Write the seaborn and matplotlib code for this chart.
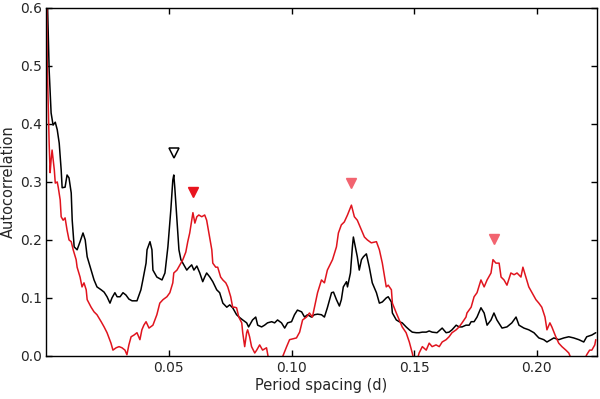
import numpy as np
import pandas as pd
import matplotlib
matplotlib.use("Agg")
import matplotlib.pyplot as plt
import seaborn as sns

# black curve: period spacing (d) vs autocorrelation
black_x = [0.0002, 0.0012, 0.0020, 0.0028, 0.0037, 0.0045, 0.0053, 0.0061, 0.0065, 0.0077,
           0.0085, 0.0093, 0.0102, 0.0106, 0.0114, 0.0126, 0.0138, 0.0150, 0.0159, 0.0167,
           0.0183, 0.0195, 0.0207, 0.0224, 0.0236, 0.0248, 0.0260, 0.0268, 0.0280, 0.0289,
           0.0301, 0.0313, 0.0325, 0.0337, 0.0350, 0.0370, 0.0386, 0.0394, 0.0407, 0.0411,
           0.0423, 0.0431, 0.0435, 0.0451, 0.0472, 0.0484, 0.0496, 0.0508, 0.0516, 0.0520,
           0.0524, 0.0533, 0.0541, 0.0549, 0.0557, 0.0573, 0.0581, 0.0593, 0.0602, 0.0614,
           0.0626, 0.0638, 0.0646, 0.0654, 0.0667, 0.0679, 0.0695, 0.0707, 0.0720, 0.0736,
           0.0748, 0.0760, 0.0776, 0.0789, 0.0801, 0.0817, 0.0825, 0.0841, 0.0854, 0.0862,
           0.0878, 0.0890, 0.0902, 0.0919, 0.0931, 0.0943, 0.0959, 0.0972, 0.0984, 0.1000,
           0.1012, 0.1024, 0.1041, 0.1053, 0.1065, 0.1081, 0.1093, 0.1106, 0.1122, 0.1134,
           0.1146, 0.1163, 0.1171, 0.1183, 0.1195, 0.1203, 0.1211, 0.1224, 0.1228, 0.1240,
           0.1248, 0.1252, 0.1260, 0.1268, 0.1276, 0.1285, 0.1293, 0.1305, 0.1317, 0.1329,
           0.1346, 0.1358, 0.1370, 0.1386, 0.1394, 0.1407, 0.1411, 0.1427, 0.1439, 0.1451,
           0.1467, 0.1480, 0.1492, 0.1508, 0.1520, 0.1533, 0.1549, 0.1561, 0.1573, 0.1593,
           0.1614, 0.1630, 0.1642, 0.1654, 0.1671, 0.1683, 0.1695, 0.1711, 0.1724, 0.1732,
           0.1744, 0.1756, 0.1772, 0.1785, 0.1797, 0.1813, 0.1825, 0.1837, 0.1858, 0.1878,
           0.1898, 0.1915, 0.1927, 0.1947, 0.1967, 0.1988, 0.2008, 0.2028, 0.2041, 0.2057,
           0.2069, 0.2089, 0.2110, 0.2130, 0.2150, 0.2171, 0.2191, 0.2203, 0.2224, 0.2240]
black_y = [0.665, 0.493, 0.419, 0.398, 0.403, 0.390, 0.367, 0.321, 0.290, 0.291,
           0.312, 0.307, 0.281, 0.234, 0.188, 0.183, 0.197, 0.212, 0.200, 0.171,
           0.148, 0.131, 0.119, 0.114, 0.110, 0.102, 0.091, 0.100, 0.109, 0.102,
           0.102, 0.109, 0.105, 0.098, 0.095, 0.095, 0.114, 0.131, 0.160, 0.183,
           0.197, 0.183, 0.148, 0.136, 0.131, 0.143, 0.188, 0.252, 0.303, 0.312,
           0.291, 0.234, 0.183, 0.166, 0.160, 0.148, 0.152, 0.157, 0.148, 0.155,
           0.143, 0.128, 0.136, 0.143, 0.136, 0.128, 0.114, 0.109, 0.091, 0.084,
           0.088, 0.083, 0.071, 0.066, 0.062, 0.057, 0.050, 0.062, 0.067, 0.053,
           0.050, 0.053, 0.057, 0.059, 0.057, 0.062, 0.057, 0.048, 0.057, 0.059,
           0.071, 0.079, 0.076, 0.067, 0.071, 0.067, 0.071, 0.072, 0.071, 0.067,
           0.083, 0.109, 0.110, 0.097, 0.086, 0.097, 0.119, 0.128, 0.119, 0.143,
           0.188, 0.205, 0.188, 0.171, 0.148, 0.166, 0.171, 0.176, 0.153, 0.126,
           0.109, 0.091, 0.093, 0.100, 0.102, 0.093, 0.074, 0.062, 0.059, 0.057,
           0.050, 0.045, 0.041, 0.040, 0.040, 0.041, 0.041, 0.043, 0.041, 0.040,
           0.048, 0.040, 0.041, 0.045, 0.053, 0.050, 0.050, 0.053, 0.053, 0.059,
           0.059, 0.067, 0.083, 0.074, 0.053, 0.062, 0.074, 0.062, 0.048, 0.050,
           0.057, 0.067, 0.053, 0.048, 0.045, 0.040, 0.031, 0.028, 0.024, 0.028,
           0.031, 0.028, 0.031, 0.033, 0.031, 0.028, 0.024, 0.033, 0.036, 0.040]

# red curve
red_x = [0.0002, 0.0004, 0.0008, 0.0012, 0.0016, 0.0020, 0.0024, 0.0033, 0.0037, 0.0045,
         0.0049, 0.0057, 0.0061, 0.0069, 0.0077, 0.0085, 0.0093, 0.0102, 0.0110, 0.0122,
         0.0126, 0.0138, 0.0146, 0.0154, 0.0163, 0.0167, 0.0183, 0.0195, 0.0207, 0.0224,
         0.0236, 0.0248, 0.0264, 0.0272, 0.0285, 0.0297, 0.0309, 0.0321, 0.0329, 0.0337,
         0.0346, 0.0358, 0.0370, 0.0382, 0.0390, 0.0398, 0.0407, 0.0419, 0.0435, 0.0451,
         0.0463, 0.0476, 0.0492, 0.0504, 0.0516, 0.0520, 0.0533, 0.0545, 0.0557, 0.0569,
         0.0577, 0.0585, 0.0593, 0.0598, 0.0606, 0.0614, 0.0622, 0.0634, 0.0646, 0.0654,
         0.0663, 0.0675, 0.0679, 0.0691, 0.0699, 0.0711, 0.0720, 0.0732, 0.0740, 0.0752,
         0.0760, 0.0768, 0.0776, 0.0785, 0.0797, 0.0801, 0.0809, 0.0817, 0.0821, 0.0829,
         0.0837, 0.0850, 0.0858, 0.0870, 0.0882, 0.0898, 0.0907, 0.0931, 0.0951, 0.0963,
         0.0980, 0.0992, 0.1020, 0.1033, 0.1045, 0.1061, 0.1073, 0.1085, 0.1106, 0.1122,
         0.1134, 0.1146, 0.1167, 0.1183, 0.1191, 0.1203, 0.1215, 0.1228, 0.1244, 0.1256,
         0.1268, 0.1285, 0.1297, 0.1309, 0.1325, 0.1346, 0.1358, 0.1370, 0.1386, 0.1394,
         0.1407, 0.1411, 0.1427, 0.1439, 0.1451, 0.1467, 0.1480, 0.1492, 0.1500, 0.1512,
         0.1520, 0.1533, 0.1549, 0.1561, 0.1573, 0.1589, 0.1602, 0.1614, 0.1630, 0.1642,
         0.1654, 0.1671, 0.1683, 0.1695, 0.1711, 0.1715, 0.1732, 0.1744, 0.1756, 0.1772,
         0.1785, 0.1797, 0.1813, 0.1821, 0.1833, 0.1846, 0.1854, 0.1866, 0.1878, 0.1894,
         0.1907, 0.1919, 0.1935, 0.1943, 0.1955, 0.1967, 0.1980, 0.1996, 0.2008, 0.2020,
         0.2033, 0.2041, 0.2053, 0.2061, 0.2077, 0.2089, 0.2102, 0.2118, 0.2130, 0.2142,
         0.2171, 0.2191, 0.2203, 0.2215, 0.2224, 0.2236, 0.2240]
red_y = [0.665, 0.510, 0.436, 0.367, 0.316, 0.338, 0.355, 0.321, 0.298, 0.300,
         0.291, 0.269, 0.240, 0.234, 0.238, 0.217, 0.200, 0.197, 0.183, 0.166,
         0.153, 0.136, 0.119, 0.126, 0.114, 0.097, 0.084, 0.076, 0.071, 0.059,
         0.050, 0.040, 0.022, 0.010, 0.014, 0.016, 0.014, 0.010, 0.002, 0.019,
         0.033, 0.036, 0.040, 0.028, 0.045, 0.053, 0.059, 0.048, 0.053, 0.071,
         0.091, 0.097, 0.102, 0.109, 0.126, 0.143, 0.148, 0.157, 0.166, 0.179,
         0.197, 0.212, 0.234, 0.247, 0.229, 0.240, 0.243, 0.240, 0.243, 0.234,
         0.212, 0.183, 0.160, 0.153, 0.153, 0.136, 0.131, 0.126, 0.119, 0.102,
         0.084, 0.084, 0.083, 0.067, 0.057, 0.040, 0.016, 0.040, 0.045, 0.033,
         0.016, 0.005, 0.010, 0.019, 0.010, 0.014, -0.007, -0.021, -0.010, -0.002,
         0.016, 0.028, 0.031, 0.041, 0.062, 0.067, 0.074, 0.067, 0.109, 0.131,
         0.126, 0.148, 0.166, 0.188, 0.212, 0.226, 0.231, 0.243, 0.260, 0.240,
         0.234, 0.217, 0.205, 0.200, 0.195, 0.197, 0.183, 0.160, 0.119, 0.122,
         0.114, 0.091, 0.074, 0.062, 0.050, 0.040, 0.024, 0.005, -0.010, -0.007,
         0.005, 0.016, 0.010, 0.022, 0.016, 0.019, 0.016, 0.024, 0.028, 0.033,
         0.040, 0.045, 0.050, 0.057, 0.067, 0.074, 0.084, 0.102, 0.109, 0.131,
         0.119, 0.131, 0.143, 0.166, 0.160, 0.160, 0.136, 0.131, 0.122, 0.143,
         0.140, 0.143, 0.136, 0.153, 0.136, 0.119, 0.109, 0.097, 0.091, 0.084,
         0.067, 0.045, 0.057, 0.050, 0.033, 0.022, 0.016, 0.010, 0.005, -0.007,
         -0.021, -0.010, 0.002, 0.010, 0.010, 0.019, 0.028]

# peak markers
open_mark_x, open_mark_y = [0.0520], [0.350]
red_mark_x, red_mark_y = [0.0598], [0.283]
pale_mark_x = [0.1244, 0.1825]
pale_mark_y = [0.298, 0.202]

sns.set_style("ticks")
plt.rcParams["font.family"] = ["DejaVu Sans"]
plt.rcParams["xtick.direction"] = "in"
plt.rcParams["ytick.direction"] = "in"

fig = plt.figure(figsize=(6.0, 3.99), dpi=100)
ax = fig.add_axes([0.077, 0.108, 0.918, 0.872])

df_black = pd.DataFrame({"x": black_x, "y": black_y})
df_red = pd.DataFrame({"x": red_x, "y": red_y})
sns.lineplot(data=df_black, x="x", y="y", color="black", lw=1.1, sort=False,
             estimator=None, ax=ax)
sns.lineplot(data=df_red, x="x", y="y", color="#e0141e", lw=1.1, sort=False,
             estimator=None, ax=ax)

ax.plot(open_mark_x, open_mark_y, "v", ms=7.5, mfc="white", mec="black", mew=1.1)
ax.plot(red_mark_x, red_mark_y, "v", ms=7.5, mfc="#e8141e", mec="#e8141e")
ax.plot(pale_mark_x, pale_mark_y, "v", ms=7.5, mfc="#f26470", mec="#f26470")

ax.set_xlim(0, 0.2245)
ax.set_ylim(0, 0.6)
ax.set_xticks([0.05, 0.10, 0.15, 0.20])
ax.set_xticklabels(["0.05", "0.10", "0.15", "0.20"])
ax.set_yticks([0.0, 0.1, 0.2, 0.3, 0.4, 0.5, 0.6])
ax.set_yticklabels(["0.0", "0.1", "0.2", "0.3", "0.4", "0.5", "0.6"])
ax.tick_params(axis="both", which="major", top=True, right=True, length=4,
               width=1, labelsize=10, color="black")
ax.tick_params(axis="x", pad=4)
ax.tick_params(axis="y", pad=3)
for s in ax.spines.values():
    s.set_linewidth(1.0)
    s.set_color("black")
ax.set_xlabel("Period spacing (d)", fontsize=10.5, labelpad=2)
ax.set_ylabel("Autocorrelation", fontsize=10.5, labelpad=3)

fig.savefig("out.png", dpi=100)
